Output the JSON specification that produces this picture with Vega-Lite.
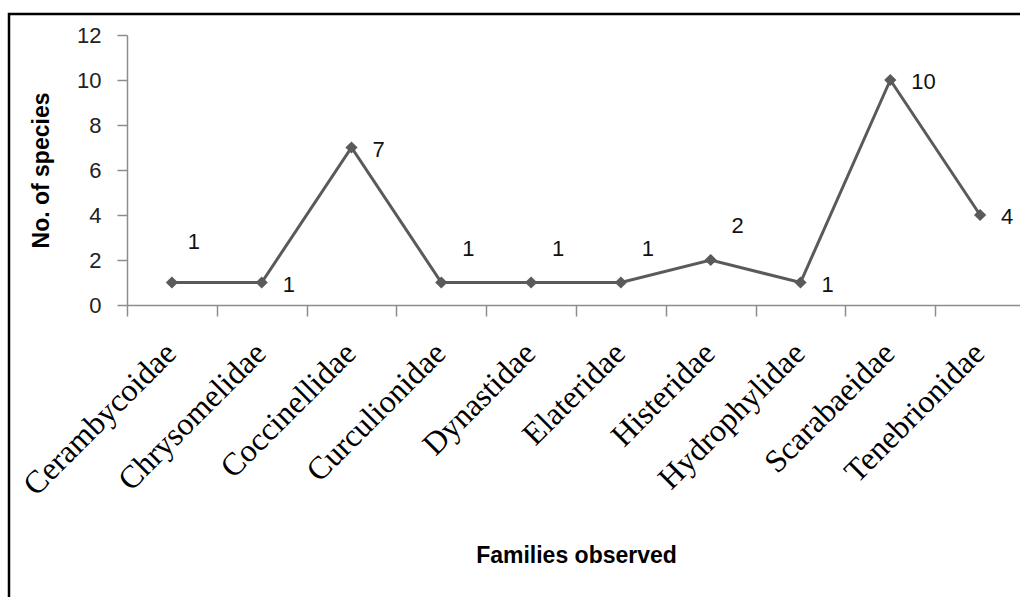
{
  "$schema": "https://vega.github.io/schema/vega-lite/v6.json",
  "autosize": {"type": "none"},
  "padding": {"left": 9, "top": 14, "right": -6, "bottom": -6},
  "width": 1017,
  "height": 589,
  "background": "white",
  "config": {
    "view": {"stroke": "#000000", "strokeWidth": 2.5},
    "font": "Liberation Sans"
  },
  "data": {
    "values": [
      {"family": "Cerambycoidae", "species": 1},
      {"family": "Chrysomelidae", "species": 1},
      {"family": "Coccinellidae", "species": 7},
      {"family": "Curculionidae", "species": 1},
      {"family": "Dynastidae", "species": 1},
      {"family": "Elateridae", "species": 1},
      {"family": "Histeridae", "species": 2},
      {"family": "Hydrophylidae", "species": 1},
      {"family": "Scarabaeidae", "species": 10},
      {"family": "Tenebrionidae", "species": 4}
    ]
  },
  "encoding": {
    "x": {
      "field": "family",
      "type": "nominal",
      "sort": null,
      "scale": {"type": "band", "range": [118, 1016], "paddingInner": 0, "paddingOuter": 0},
      "axis": {
        "title": "Families observed",
        "tickBand": "extent",
        "labelAngle": -45,
        "labelAlign": "right",
        "labelBaseline": "top",
        "labelOffset": -12,
        "labelPadding": 21,
        "labelFont": "Liberation Serif",
        "labelFontSize": 32,
        "labelColor": "#000000",
        "labelOverlap": false,
        "labelBound": false,
        "labelLimit": 0,
        "tickSize": 11,
        "tickColor": "#8c8c8c",
        "tickWidth": 1.5,
        "domainColor": "#8c8c8c",
        "domainWidth": 1.5,
        "grid": false,
        "offset": -298,
        "titleFont": "Liberation Sans",
        "titleFontWeight": "bold",
        "titleFontSize": 23,
        "titleColor": "#000000",
        "titleX": 567,
        "titleY": 257,
        "titleAlign": "center",
        "titleBaseline": "alphabetic"
      }
    },
    "y": {
      "field": "species",
      "type": "quantitative",
      "scale": {"domain": [0, 12], "range": [291, 21], "nice": false},
      "axis": {
        "title": "No. of species",
        "values": [0, 2, 4, 6, 8, 10, 12],
        "offset": -118,
        "tickSize": 10,
        "tickColor": "#8c8c8c",
        "tickWidth": 1.5,
        "domainColor": "#8c8c8c",
        "domainWidth": 1.5,
        "labelPadding": 16,
        "labelFont": "Liberation Sans",
        "labelFontSize": 22,
        "labelColor": "#222222",
        "grid": false,
        "titleFont": "Liberation Sans",
        "titleFontWeight": "bold",
        "titleFontSize": 23,
        "titleColor": "#000000",
        "titleAngle": -90,
        "titleX": -86,
        "titleY": 156,
        "titleAlign": "center",
        "titleBaseline": "middle"
      }
    }
  },
  "layer": [
    {"mark": {"type": "line", "color": "#5a5a5a", "strokeWidth": 3}},
    {"mark": {"type": "point", "shape": "diamond", "filled": true, "size": 150, "color": "#5a5a5a", "opacity": 1}},
    {
      "transform": [{"filter": "datum.family === 'Cerambycoidae'"}],
      "mark": {"type": "text", "align": "center", "baseline": "middle", "dx": 22, "dy": -41, "fontSize": 22, "font": "Liberation Sans", "color": "#111111"},
      "encoding": {"text": {"field": "species", "type": "quantitative"}}
    },
    {
      "transform": [{"filter": "indexof(['Curculionidae','Dynastidae','Elateridae','Histeridae'], datum.family) >= 0"}],
      "mark": {"type": "text", "align": "center", "baseline": "middle", "dx": 27, "dy": -34, "fontSize": 22, "font": "Liberation Sans", "color": "#111111"},
      "encoding": {"text": {"field": "species", "type": "quantitative"}}
    },
    {
      "transform": [{"filter": "indexof(['Chrysomelidae','Coccinellidae','Hydrophylidae','Scarabaeidae','Tenebrionidae'], datum.family) >= 0"}],
      "mark": {"type": "text", "align": "left", "baseline": "middle", "dx": 21, "dy": 2, "fontSize": 22, "font": "Liberation Sans", "color": "#111111"},
      "encoding": {"text": {"field": "species", "type": "quantitative"}}
    }
  ]
}
